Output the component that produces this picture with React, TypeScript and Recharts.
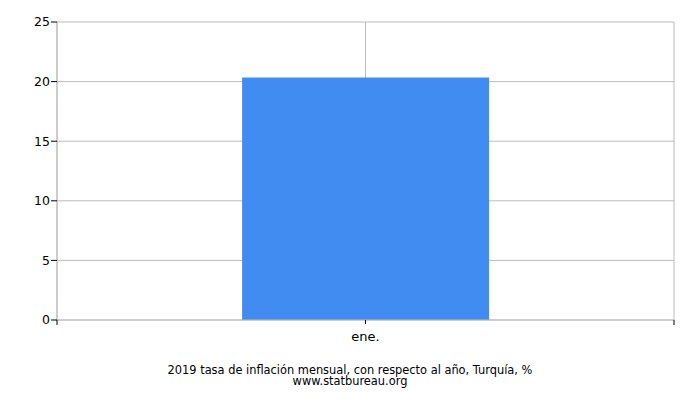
import React from 'react';
import { BarChart, Bar, XAxis, YAxis, CartesianGrid } from 'recharts';

const months = ['ene.'];
const inflation = [20.35];
const yTicks = [0, 5, 10, 15, 20, 25];

const data = months.map((m, i) => ({ month: m, value: inflation[i] }));

const font = 'DejaVu Sans, sans-serif';

const gridVerticals = ({ offset }: any) => [
  offset.left,
  offset.left + offset.width / 2,
  offset.left + offset.width,
];

// category tick: label plus tick marks at both band edges
const MonthTick = (props: any) => {
  const { x, y, payload } = props;
  const half = payload?.offset ?? 0;
  const top = y - 12;
  return (
    <g>
      <line x1={x - half} x2={x - half} y1={top} y2={top + 5} stroke="#000" />
      <line x1={x + half} x2={x + half} y1={top} y2={top + 5} stroke="#000" />
      <text x={x} y={y} dy="0.71em" textAnchor="middle" fill="#000" fontSize={13} fontFamily={font}>
        {payload.value}
      </text>
    </g>
  );
};

export default function App() {
  return (
    <div style={{ position: 'absolute', left: 0, top: 0, width: 700, height: 400, background: '#fff', fontFamily: font }}>
      <BarChart
        width={700}
        height={400}
        data={data}
        margin={{ top: 22, right: 26, bottom: 60, left: 7 }}
        barCategoryGap="30%"
      >
        <CartesianGrid stroke="#bbbbbb" verticalCoordinatesGenerator={gridVerticals} />
        <XAxis
          dataKey="month"
          height={20}
          axisLine={{ stroke: '#bbbbbb' }}
          tickLine={{ stroke: '#000' }}
          tickSize={4}
          tickMargin={8}
          tick={<MonthTick />}
        />
        <YAxis
          width={50}
          domain={[0, 25]}
          ticks={yTicks}
          axisLine={{ stroke: '#bbbbbb' }}
          tickLine={{ stroke: '#000' }}
          tickSize={6}
          tickMargin={1}
          tick={{ fill: '#000', fontSize: 12.5, fontFamily: font }}
        />
        <Bar dataKey="value" fill="#418cf0" isAnimationActive={false} />
      </BarChart>
      <div style={{ position: 'absolute', top: 365, left: 0, width: 700, textAlign: 'center', fontSize: 11.4, lineHeight: '11px', color: '#000' }}>
        <div>2019 tasa de inflación mensual, con respecto al año, Turquía, %</div>
        <div>www.statbureau.org</div>
      </div>
    </div>
  );
}
